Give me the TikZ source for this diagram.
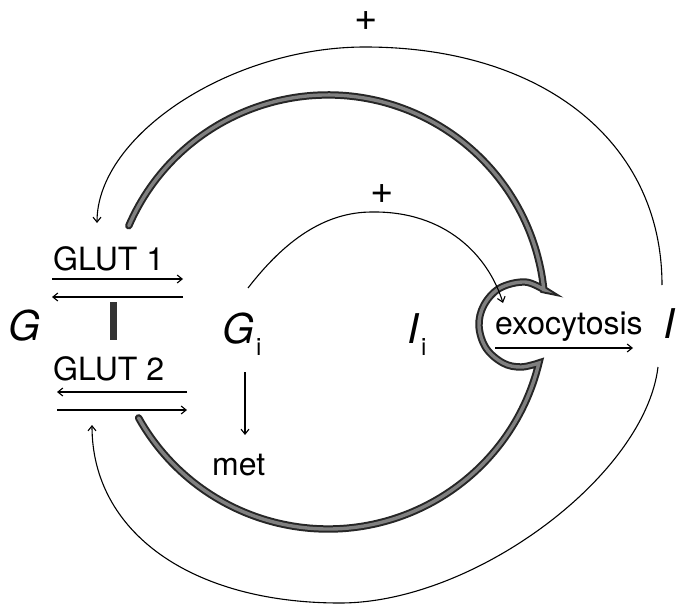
\documentclass[tikz,border=0pt]{standalone}
\usepackage{fontspec}
\setmainfont{TeX Gyre Heros}
\usetikzlibrary{arrows.meta}
\begin{document}
\begin{tikzpicture}[x=1pt,y=-1pt,
  arr/.style={line width=1.1pt,-{Straight Barb[length=5pt,width=8pt]}},
  membrane/.style={draw=black!85,double=black!50,line width=2pt,double distance=3.4pt,line cap=round,line join=miter},
  lbl/.style={inner sep=0pt,anchor=base west,font=\fontsize{32}{36}\selectfont},
  big/.style={inner sep=0pt,anchor=base west,font=\fontsize{41}{46}\selectfont\itshape},
  sub/.style={inner sep=0pt,anchor=base west,font=\fontsize{24}{28}\selectfont},
  plus/.style={inner sep=0pt,font=\fontsize{40}{44}\selectfont}]
\useasboundingbox (0,0) rectangle (680,607);

% cell membrane
\draw[membrane] (128.8,225.8) arc[start angle=-156.6,end angle=-5.9,radius=217]
  -- plot[smooth,tension=0.6] coordinates {(543.9,289.7) (525,282) (500,288) (484,305) (479,326) (486,348) (503,363) (521,367) (538.9,363)}
  arc[start angle=13.6,end angle=150.8,radius=217];

% labels
\node[lbl] (glut1) at (53,270) {GLUT 1};
\node[lbl] (glut2) at (53,380) {GLUT 2};
\node[big] (G) at (8,340) {G};
\node[big] (Gi) at (222,343) {G};
\node[sub] (Gisub) at (256,355) {i};
\node[big] (Ii) at (407,343) {I};
\node[sub] (Iisub) at (421,355) {i};
\node[lbl] (met) at (212,475) {met};
\node[lbl] (exo) at (495,334) {exocytosis};
\node[big] (Iout) at (663,338) {I};
\node[plus] (plus1) at (366,21) {+};
\node[plus] (plus2) at (382,194) {+};

% transporter arrows
\coordinate (g1a) at (52,279); \coordinate (g1b) at (183,279);
\coordinate (g1c) at (183,297); \coordinate (g1d) at (52,297);
\coordinate (g2a) at (187,392); \coordinate (g2b) at (57,392);
\coordinate (g2c) at (57,410); \coordinate (g2d) at (187,410);
\draw[arr] (g1a) -- (g1b);
\draw[arr] (g1c) -- (g1d);
\draw[arr] (g2a) -- (g2b);
\draw[arr] (g2c) -- (g2d);
\coordinate (bart) at (113,302); \coordinate (barb) at (113,340);
\draw[black!80,line width=7pt] (bart) -- (barb);

% metabolism and exocytosis
\coordinate (mets) at (245,372); \coordinate (mete) at (245,435);
\draw[arr] (mets) -- (mete);
\coordinate (exs) at (495,348); \coordinate (exe) at (633,348);
\draw[arr] (exs) -- (exe);

% feedback loops
\coordinate (inS) at (248,288); \coordinate (inT) at (372,212); \coordinate (inE) at (503,303);
\draw[arr] (inS) .. controls (285,240) and (325,212) .. (inT)
  .. controls (445,211) and (488,255) .. (inE);
\coordinate (upS) at (662,285); \coordinate (upT) at (365,47); \coordinate (upE) at (97,223);
\draw[arr] (upS) .. controls (662,142) and (543,47) .. (upT)
  .. controls (231,47) and (97,135) .. (upE);
\coordinate (loS) at (658,367); \coordinate (loB) at (340,603); \coordinate (loE) at (92,425);
\draw[arr] (loS) .. controls (645,475) and (475,603) .. (loB)
  .. controls (191,603) and (92,532) .. (loE);
\end{tikzpicture}
\end{document}
